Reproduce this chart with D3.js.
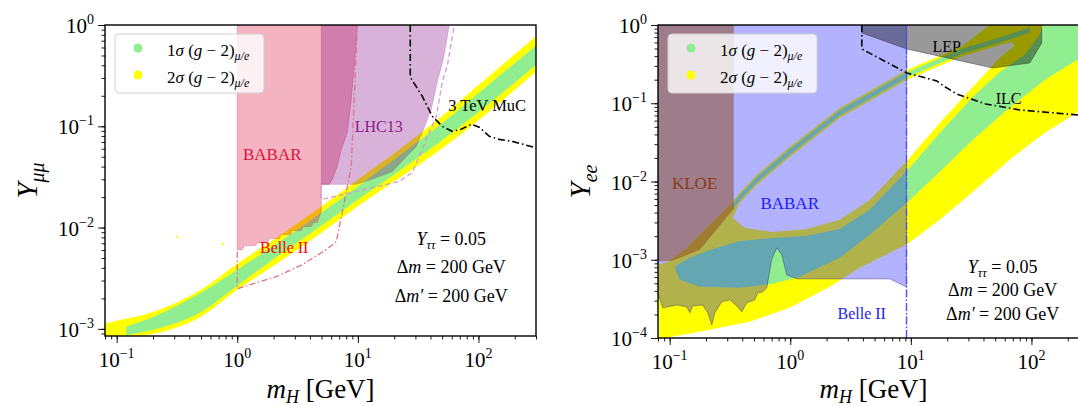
<!DOCTYPE html>
<html><head><meta charset="utf-8">
<script src="https://cdn.jsdelivr.net/npm/d3@7"></script>
<style>
html,body{margin:0;padding:0;background:#fff;overflow:hidden}
svg{display:block;font-family:"Liberation Serif","DejaVu Serif",serif}
</style></head><body>
<svg id="chart" width="1078" height="406"></svg>
<script>
// ---------------- data ----------------
const massDomain = [0.08, 300];
const muDomain = [8.5e-4, 1];
const eeDomain = [1e-4, 1];
const massTicks = [0.1, 1, 10, 100];
const muTicks = [1e-3, 1e-2, 1e-1, 1];
const eeTicks = [1e-4, 1e-3, 1e-2, 1e-1, 1];

// Y_mumu panel: (g-2) preferred bands
const muYellowMass = [0.07, 0.1, 0.2, 0.5, 1, 2, 5, 10, 20, 50, 100, 320];
const muYellowHigh = [1.08e-3, 1.2e-3, 1.47e-3, 2.43e-3, 4.4e-3, 7.6e-3, 0.0162, 0.0299, 0.054, 0.126, 0.255, 0.83];
const muYellowLow  = [7e-4, 8e-4, 8.9e-4, 1.32e-3, 2.43e-3, 4.2e-3, 8.9e-3, 0.0162, 0.0285, 0.0605, 0.115, 0.37];
const muGreenMass = [0.12, 0.2, 0.5, 1, 2, 5, 10, 20, 50, 100, 320];
const muGreenHigh = [1.05e-3, 1.31e-3, 2.27e-3, 3.84e-3, 6.6e-3, 0.0141, 0.0255, 0.0471, 0.107, 0.212, 0.67];
const muGreenLow  = [8.7e-4, 9.8e-4, 1.47e-3, 2.67e-3, 4.9e-3, 0.0105, 0.0189, 0.0335, 0.0727, 0.138, 0.43];
const muStrayPoints = [[0.315, 8.1e-3], [0.755, 6.9e-3]];

// Y_mumu panel: exclusions and projections
const muBabar = [[1, 1.2], [1, 6.05e-3], [1.10, 6.05e-3], [1.143, 6.64e-3], [1.41, 6.64e-3], [1.465, 7.1e-3],
  [1.774, 7.1e-3], [1.842, 7.78e-3], [2.23, 7.78e-3], [2.317, 8.53e-3], [2.751, 8.53e-3], [2.858, 9.34e-3],
  [3.395, 9.34e-3], [3.526, 0.01023], [4.108, 0.01023], [4.268, 0.0112], [4.607, 0.0112], [4.786, 0.01285],
  [4.972, 0.0144], [4.972, 0.0267], [5.793, 0.0267], [6.135, 0.02987], [6.749, 0.0402], [7.285, 0.0592],
  [8.17, 0.0872], [8.815, 0.185], [9.333, 0.3927], [9.886, 1], [9.95, 1.2]];
const muLhc13 = [[4.97, 1.2], [4.97, 0.0267], [9.7, 0.0267], [13.7, 0.0306], [19.3, 0.0358], [30.5, 0.0634],
  [34.2, 0.0872], [40.6, 0.147], [45.5, 0.273], [51.1, 0.46], [57.3, 1], [58, 1.2]];
const muLhc13Proj = [[4.97, 0.026], [4.97, 0.0189], [22.0, 0.0285], [28.3, 0.035], [32.3, 0.0505], [39.1, 0.0872],
  [44.7, 0.1256], [50.1, 0.273], [55.1, 0.393], [63.0, 1]];
const muBelle2Mass  = [1, 1, 1.44, 2.1, 3.46, 5.47, 6.62, 8.0, 8.81, 9.33, 9.89];
const muBelle2Limit = [5.78e-3, 2.49e-3, 2.85e-3, 3.27e-3, 4.3e-3, 6.05e-3, 7.27e-3, 0.0222, 0.0402, 0.185, 1];
const muMucMass  = [27.2, 27.2, 34.2, 41.4, 50.1, 60.6, 72.0, 87.1, 101.6, 123, 149, 190.5, 290, 320];
const muMucLimit = [1, 0.305, 0.198, 0.1256, 0.1, 0.0892, 0.0934, 0.1047, 0.0977, 0.0796, 0.0743, 0.071, 0.062, 0.0605];

// Y_ee panel: (g-2) preferred region (outer rim, inner hole, 1 sigma pieces)
const eeYellowOuter = [[0.075, 9.5e-5], [0.1774, 1.2e-4], [0.4605, 1.61e-4], [0.9886, 2.43e-4], [2.122, 4.51e-4],
  [3.762, 7.88e-4], [9.41, 1.6e-3], [17.33, 3.24e-3], [32.54, 7.36e-3], [65.6, 0.01887], [128.7, 0.0418],
  [241.5, 0.0774], [334, 0.1167], [334, 1.2], [45, 1.2], [45, 1], [26.89, 0.539], [9.23, 0.266], [2.568, 0.0871],
  [0.9886, 0.0277], [0.7713, 0.02], [0.5264, 0.01214], [0.3805, 0.00715], [0.333, 0.00549], [0.26, 0.003744],
  [0.1774, 0.00208], [0.133, 0.001337], [0.0963, 0.00094], [0.075, 0.000836]];
const eeHole = [[0.333, 0.00343], [0.3805, 0.00533], [0.5264, 0.00905], [0.7713, 0.0149], [0.9886, 0.0206],
  [2.568, 0.0649], [9.23, 0.1984], [26.89, 0.4018], [54.5, 0.555], [69.3, 0.6066], [72.0, 0.539], [54.5, 0.379],
  [32.54, 0.1615], [17.33, 0.056], [9.41, 0.01887], [4.553, 0.00582], [2.568, 0.00324], [1.368, 0.00248],
  [0.7145, 0.00227], [0.4188, 0.002556]];
const eeGreenBand = [[0.1122, 0.000836], [0.1465, 0.001057], [0.2146, 0.001337], [0.3805, 0.00174], [0.7145, 0.0019],
  [1.368, 0.00202], [2.568, 0.00248], [4.553, 0.00434], [9.41, 0.01406], [17.33, 0.0418], [32.54, 0.1203],
  [54.5, 0.251], [87.9, 0.4138], [116.9, 0.745], [128.7, 1.158], [334, 1.158], [334, 0.46], [241.5, 0.36],
  [128.7, 0.1984], [65.6, 0.0871], [32.54, 0.034], [17.33, 0.01327], [9.41, 0.00549], [4.553, 0.00208],
  [2.568, 0.001057], [1.196, 0.000605], [0.7145, 0.000492], [0.3805, 0.000438], [0.1774, 0.000451],
  [0.121, 0.000554], [0.1122, 0.000743]];
const eeGreenArm = [[0.333, 0.0051], [0.3805, 0.00665], [0.5264, 0.01128], [0.7713, 0.0186], [0.9886, 0.0257],
  [2.568, 0.0809], [9.23, 0.2473], [26.89, 0.501], [54.5, 0.6924], [96.6, 0.929], [96.6, 0.802], [54.5, 0.5977],
  [26.89, 0.4325], [9.23, 0.2136], [2.568, 0.0699], [0.9886, 0.0222], [0.7713, 0.01605], [0.5264, 0.00974],
  [0.3805, 0.00574], [0.333, 0.0044]];

// Y_ee panel: exclusions and projections
const eeBabarMass  = [0.07, 0.0796, 0.0877, 0.0965, 0.1146, 0.1387, 0.1469, 0.1555, 0.188, 0.207, 0.2234, 0.2366,
  0.2704, 0.315, 0.367, 0.396, 0.4357, 0.5077, 0.5377, 0.5915, 0.6383, 0.70, 0.7726, 0.8503, 0.9354, 1.132, 6.68, 9.2];
const eeBabarLimit = [3.78e-4, 3.78e-4, 2.43e-4, 2.5e-4, 2.65e-4, 2.5e-4, 2.1e-4, 2.58e-4, 2.65e-4, 2.1e-4, 1.47e-4,
  2.1e-4, 2.9e-4, 3.08e-4, 2.5e-4, 2.16e-4, 2.82e-4, 3.08e-4, 3.78e-4, 3.89e-4, 4.38e-4, 1.0e-3, 1.42e-3, 1.16e-3,
  6.41e-4, 5.7e-4, 5.7e-4, 4.5e-4];
const eeKloe = [[0.07, 1.2], [0.07, 9.4e-4], [0.106, 9.68e-4], [0.1777, 1.34e-3], [0.3337, 4.34e-3], [0.34, 4.34e-3], [0.34, 1.2]];
const eeLep = [[3.92, 1.2], [3.92, 0.79], [9.25, 0.494], [47.8, 0.282], [96.8, 0.327], [121.7, 0.589], [121.7, 1.2]];
const eeIlcMass  = [3.92, 3.92, 9.25, 16.4, 18.7, 24.0, 41.8, 80, 156, 320];
const eeIlcLimit = [1, 0.494, 0.244, 0.193, 0.166, 0.1315, 0.098, 0.0821, 0.0752, 0.068];
const eeBelle2Mass = 9.2;

// ---------------- drawing ----------------
const svg = d3.select('#chart');
const defs = svg.append('defs');

function logTicks(lo, hi) {
  const out = [];
  for (let e = Math.floor(Math.log10(lo)); e <= Math.ceil(Math.log10(hi)); e++)
    for (let m = 1; m < 10; m++) {
      const v = m * Math.pow(10, e);
      if (v >= lo * 0.9999 && v <= hi * 1.0001) out.push(v);
    }
  return out;
}

function makePanel(id, box, yDomain) {
  const x = d3.scaleLog().domain(massDomain).range([box.left, box.right]);
  const y = d3.scaleLog().domain(yDomain).range([box.bottom, box.top]);
  defs.append('clipPath').attr('id', id).append('rect')
    .attr('x', box.left).attr('y', box.top)
    .attr('width', box.right - box.left).attr('height', box.bottom - box.top);
  const g = svg.append('g');
  const plot = g.append('g').attr('clip-path', `url(#${id})`);
  const poly = d3.line().x(d => x(d[0])).y(d => y(d[1]));
  return { x, y, g, plot, box, poly, yDomain };
}

function powLabel(sel, v) {
  const e = Math.round(Math.log10(v));
  sel.append('tspan').text('10');
  sel.append('tspan').attr('font-size', 14).attr('dy', -9).text(e < 0 ? '\u2212' + (-e) : String(e));
}

function drawAxes(P, yMajor) {
  const { x, y, g, box } = P;
  const xMinor = logTicks(massDomain[0], massDomain[1]);
  const yMinor = logTicks(P.yDomain[0], P.yDomain[1]);
  const styleAxis = s => { s.select('.domain').remove(); s.selectAll('line').attr('stroke', '#000').attr('stroke-width', 0.9); };
  g.append('g').attr('transform', `translate(0,${box.bottom})`)
    .call(d3.axisBottom(x).tickValues(xMinor).tickSize(3.5).tickFormat('')).call(styleAxis);
  g.append('g').attr('transform', `translate(0,${box.bottom})`)
    .call(d3.axisBottom(x).tickValues(massTicks).tickSize(7).tickFormat('')).call(styleAxis);
  g.append('g').attr('transform', `translate(${box.left},0)`)
    .call(d3.axisLeft(y).tickValues(yMinor).tickSize(3.5).tickFormat('')).call(styleAxis);
  g.append('g').attr('transform', `translate(${box.left},0)`)
    .call(d3.axisLeft(y).tickValues(yMajor).tickSize(7).tickFormat('')).call(styleAxis);
  massTicks.forEach(v => {
    g.append('text').attr('x', x(v)).attr('y', box.bottom + 31).attr('text-anchor', 'middle')
      .attr('font-size', 21).call(powLabel, v);
  });
  yMajor.forEach(v => {
    g.append('text').attr('x', box.left - 11).attr('y', y(v) + 8).attr('text-anchor', 'end')
      .attr('font-size', 21).call(powLabel, v);
  });
  g.append('rect').attr('x', box.left).attr('y', box.top)
    .attr('width', box.right - box.left).attr('height', box.bottom - box.top)
    .attr('fill', 'none').attr('stroke', '#000').attr('stroke-width', 1.4);
  // x title
  const t = g.append('text').attr('x', (box.left + box.right) / 2).attr('y', 398)
    .attr('text-anchor', 'middle').attr('font-size', 27);
  t.append('tspan').attr('font-style', 'italic').text('m');
  t.append('tspan').attr('font-style', 'italic').attr('font-size', 18).attr('dy', 5).text('H');
  t.append('tspan').attr('dy', -5).text(' [GeV]');
}

function yTitle(P, xPos, sub) {
  const cy = (P.box.top + P.box.bottom) / 2;
  const t = P.g.append('text').attr('transform', `translate(${xPos},${cy}) rotate(-90)`)
    .attr('text-anchor', 'middle').attr('font-size', 29);
  t.append('tspan').attr('font-style', 'italic').text('Y');
  t.append('tspan').attr('font-style', 'italic').attr('font-size', 20).attr('dy', 7).text(sub);
}

function legend(P) {
  const lx = P.box.left + 10, ly = P.box.top + 9;
  const g = P.g.append('g');
  g.append('rect').attr('x', lx).attr('y', ly).attr('width', 149).attr('height', 59).attr('rx', 4)
    .attr('fill', '#fff').attr('fill-opacity', 0.8).attr('stroke', '#d0d0d0').attr('stroke-width', 1);
  [['1', '#90ee90', 22], ['2', '#ffff00', 49]].forEach(([n, c, dy]) => {
    g.append('circle').attr('cx', lx + 23).attr('cy', ly + dy - 8).attr('r', 4.5).attr('fill', c);
    const t = g.append('text').attr('x', lx + 52).attr('y', ly + dy).attr('font-size', 17);
    t.append('tspan').text(n);
    t.append('tspan').attr('font-style', 'italic').text('\u03c3');
    t.append('tspan').text(' (');
    t.append('tspan').attr('font-style', 'italic').text('g');
    t.append('tspan').text(' \u2212 2)');
    t.append('tspan').attr('font-style', 'italic').attr('font-size', 12).attr('dy', 4).text('\u03bc/e');
  });
}

function note(P, xv, yv, parts, size, color) {
  const t = P.plot.append('text').attr('x', P.x(xv)).attr('y', P.y(yv)).attr('text-anchor', 'middle')
    .attr('font-size', size).attr('fill', color || '#000');
  parts.forEach(p => {
    const s = t.append('tspan').text(p.t);
    if (p.i) s.attr('font-style', 'italic');
    if (p.sub) s.attr('font-size', size * 0.7).attr('dy', 4);
    if (p.up) s.attr('dy', -4);
  });
  return t;
}

function annotations(P, xv, ys) {
  note(P, xv, ys[0], [{ t: 'Y', i: 1 }, { t: '\u03c4\u03c4', i: 1, sub: 1 }, { t: ' = 0.05', up: 1 }], 18);
  note(P, xv, ys[1], [{ t: '\u0394' }, { t: 'm', i: 1 }, { t: ' = 200 GeV' }], 18);
  note(P, xv, ys[2], [{ t: '\u0394' }, { t: 'm\u2032', i: 1 }, { t: ' = 200 GeV' }], 18);
}

// ---------- left panel: Y_mumu ----------
const L = makePanel('clip-mu', { left: 105, right: 536, top: 25, bottom: 336 }, muDomain);
const muY2 = muYellowMass.map((m, i) => [m, muYellowLow[i], muYellowHigh[i]]);
const muG1 = muGreenMass.map((m, i) => [m, muGreenLow[i], muGreenHigh[i]]);
const bandArea = (P) => d3.area().x(d => P.x(d[0])).y0(d => P.y(d[1])).y1(d => P.y(d[2])).curve(d3.curveMonotoneX);
L.plot.append('path').datum(muY2).attr('d', bandArea(L)).attr('fill', '#ffff00');
L.plot.append('path').datum(muG1).attr('d', bandArea(L)).attr('fill', '#90ee90');
L.plot.selectAll('circle.stray').data(muStrayPoints).join('circle')
  .attr('cx', d => L.x(d[0])).attr('cy', d => L.y(d[1])).attr('r', 1.2).attr('fill', '#ffff00');
L.plot.append('path').attr('d', L.poly(muBabar) + 'Z').attr('fill', 'crimson').attr('fill-opacity', 0.32)
  .attr('stroke', 'crimson').attr('stroke-opacity', 0.35).attr('stroke-width', 0.8);
L.plot.append('path').attr('d', L.poly(muLhc13) + 'Z').attr('fill', 'purple').attr('fill-opacity', 0.3)
  .attr('stroke', 'purple').attr('stroke-opacity', 0.25).attr('stroke-width', 0.8);
L.plot.append('path').attr('d', L.poly(muLhc13Proj)).attr('fill', 'none').attr('stroke', '#d49ad4')
  .attr('stroke-width', 1.3).attr('stroke-dasharray', '5,3');
L.plot.append('path').attr('d', L.poly(muBelle2Mass.map((m, i) => [m, muBelle2Limit[i]])))
  .attr('fill', 'none').attr('stroke', '#e0708c').attr('stroke-width', 1.3).attr('stroke-dasharray', '6,2.5,1.5,2.5');
L.plot.append('path').attr('d', L.poly(muMucMass.map((m, i) => [m, muMucLimit[i]])))
  .attr('fill', 'none').attr('stroke', '#000').attr('stroke-width', 1.6).attr('stroke-dasharray', '7,3,1.5,3');
note(L, 1.95, 0.046, [{ t: 'BABAR' }], 17, '#dc143c');
note(L, 14.9, 0.0872, [{ t: 'LHC13' }], 16, '#8b1a8b');
note(L, 2.45, 5.66e-3, [{ t: 'Belle II' }], 16, '#ff0000');
note(L, 118, 0.141, [{ t: '3 TeV MuC' }], 16.5);
annotations(L, 59.5, [6.79e-3, 3.58e-3, 1.85e-3]);
legend(L);
drawAxes(L, muTicks);
yTitle(L, 37, '\u03bc\u03bc');

// ---------- right panel: Y_ee ----------
const R = makePanel('clip-ee', { left: 658, right: 1089, top: 25, bottom: 338 }, eeDomain);
R.plot.append('path').attr('d', R.poly(eeYellowOuter) + 'Z' + R.poly(eeHole) + 'Z')
  .attr('fill', '#ffff00').attr('fill-rule', 'evenodd');
R.plot.append('path').attr('d', R.poly(eeGreenBand) + 'Z').attr('fill', '#90ee90');
R.plot.append('path').attr('d', R.poly(eeGreenArm) + 'Z').attr('fill', '#90ee90');
const babarPoly = [[0.07, 1.2]].concat(eeBabarMass.map((m, i) => [m, eeBabarLimit[i]]), [[eeBelle2Mass, 1.2]]);
R.plot.append('path').attr('d', R.poly(babarPoly) + 'Z').attr('fill', 'blue').attr('fill-opacity', 0.3)
  .attr('stroke', '#2a2a7a').attr('stroke-opacity', 0.55).attr('stroke-width', 0.8);
R.plot.append('path').attr('d', R.poly(eeKloe) + 'Z').attr('fill', 'saddlebrown').attr('fill-opacity', 0.5);
R.plot.append('path').attr('d', R.poly(eeLep) + 'Z').attr('fill', '#000').attr('fill-opacity', 0.4)
  .attr('stroke', '#333').attr('stroke-opacity', 0.6).attr('stroke-width', 0.8);
R.plot.append('path').attr('d', R.poly(eeIlcMass.map((m, i) => [m, eeIlcLimit[i]])))
  .attr('fill', 'none').attr('stroke', '#000').attr('stroke-width', 1.6).attr('stroke-dasharray', '7,3,1.5,3');
R.plot.append('line').attr('x1', R.x(eeBelle2Mass)).attr('x2', R.x(eeBelle2Mass))
  .attr('y1', R.y(eeDomain[0])).attr('y2', R.y(eeDomain[1]))
  .attr('stroke', '#4b4bff').attr('stroke-width', 1.4).attr('stroke-dasharray', '8,2,1.5,2');
note(R, 0.161, 8.04e-3, [{ t: 'KLOE' }], 17, '#8b3a1a');
note(R, 0.989, 4.47e-3, [{ t: 'BABAR' }], 17, '#1a1aff');
note(R, 3.91, 1.76e-4, [{ t: 'Belle II' }], 16, '#1a1aff');
note(R, 19.8, 0.452, [{ t: 'LEP' }], 16);
note(R, 64.7, 0.098, [{ t: 'ILC' }], 16);
annotations(R, 57.7, [6.8e-4, 3.46e-4, 1.71e-4]);
legend(R);
drawAxes(R, eeTicks);
yTitle(R, 590, 'ee');
</script>
</body></html>
